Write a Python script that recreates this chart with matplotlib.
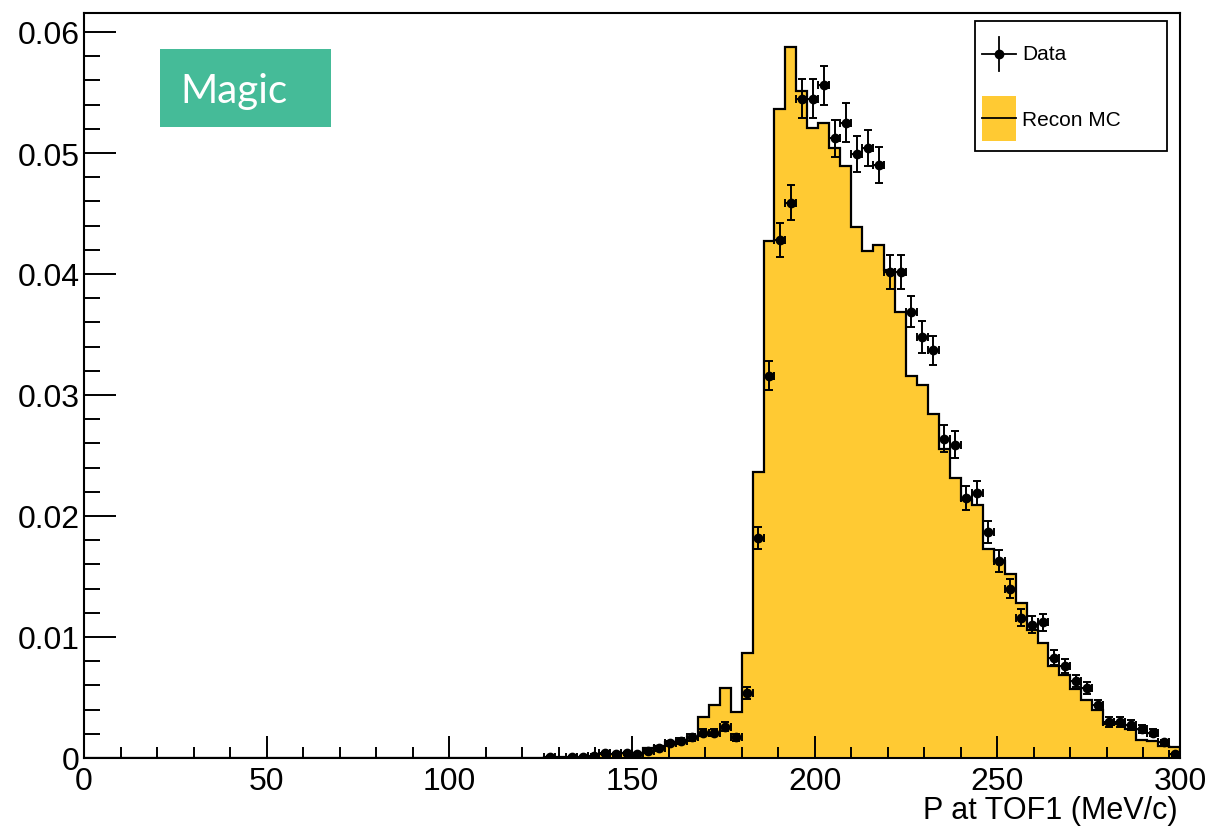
import numpy as np
import matplotlib
matplotlib.use("Agg")
import matplotlib.pyplot as plt
from matplotlib.patches import Rectangle
from matplotlib.lines import Line2D

plt.rcParams['font.family'] = ['Liberation Sans', 'DejaVu Sans']

# MC histogram, 3 MeV/c bins starting at 126 MeV/c (everything below is empty)
mc_start = 126
bin_width = 3
mc_values = [
    0.00005, 0.00005, 0.0001, 0.0001, 0.0002, 0.0003, 0.0003, 0.0004,   # 126-150
    0.0004, 0.0008, 0.0010, 0.0013, 0.0015, 0.0017,                     # 150-168
    0.0034, 0.0044, 0.0058, 0.0038,                                     # 168-180
    0.0087, 0.0236, 0.0427, 0.0536, 0.0588, 0.0551, 0.0521, 0.0525,     # 180-204
    0.0504, 0.0489, 0.0439, 0.0419, 0.0424, 0.0403, 0.0369, 0.0316,     # 204-228
    0.0308, 0.0284, 0.0255, 0.0231, 0.0213, 0.0209, 0.0173, 0.0163,     # 228-252
    0.0152, 0.0128, 0.0106, 0.0095, 0.0076, 0.0069, 0.0057, 0.0048,     # 252-276
    0.0040, 0.0028, 0.0028, 0.0024, 0.0015, 0.0014, 0.0010, 0.0009,     # 276-300
]

# Data points (bin centres), values and vertical errors
data_x = [127.5, 133.5, 136.5, 139.5, 142.5, 145.5, 148.5, 151.5, 154.5, 157.5,
          160.5, 163.5, 166.5, 169.5, 172.5, 175.5, 178.5, 181.5, 184.5, 187.5,
          190.5, 193.5, 196.5, 199.5, 202.5, 205.5, 208.5, 211.5, 214.5, 217.5,
          220.5, 223.5, 226.5, 229.5, 232.5, 235.5, 238.5, 241.5, 244.5, 247.5,
          250.5, 253.5, 256.5, 259.5, 262.5, 265.5, 268.5, 271.5, 274.5, 277.5,
          280.5, 283.5, 286.5, 289.5, 292.5, 295.5, 298.5]
data_y = [0.0001, 0.0001, 0.0001, 0.0002, 0.0004, 0.0003, 0.0004, 0.0003, 0.0006, 0.0008,
          0.0012, 0.0014, 0.0017, 0.0021, 0.0021, 0.0026, 0.0017, 0.0054, 0.0182, 0.0316,
          0.0428, 0.0459, 0.0545, 0.0545, 0.0556, 0.0512, 0.0525, 0.0499, 0.0504, 0.0490,
          0.0402, 0.0402, 0.0369, 0.0348, 0.0337, 0.0264, 0.0259, 0.0215, 0.0219, 0.0187,
          0.0163, 0.0140, 0.0116, 0.0110, 0.0112, 0.0083, 0.0076, 0.0064, 0.0058, 0.0044,
          0.0030, 0.0030, 0.0027, 0.0024, 0.0021, 0.0013, 0.0003]
data_err = [0.00007, 0.00007, 0.00007, 0.0001, 0.00013, 0.00012, 0.00013, 0.00012, 0.00017, 0.0002,
            0.00024, 0.00025, 0.00028, 0.0003, 0.0003, 0.00035, 0.00028, 0.0005, 0.0009, 0.0012,
            0.0014, 0.00145, 0.0016, 0.0016, 0.0016, 0.0015, 0.0016, 0.0015, 0.0015, 0.0015,
            0.0014, 0.0014, 0.0013, 0.0013, 0.0012, 0.0011, 0.0011, 0.0010, 0.0010, 0.0009,
            0.0009, 0.0008, 0.0007, 0.0007, 0.0007, 0.0006, 0.0006, 0.0005, 0.0005, 0.0004,
            0.0004, 0.0004, 0.0004, 0.0003, 0.0003, 0.0002, 0.0001]

xticks = [0, 50, 100, 150, 200, 250, 300]
yticks = [0, 0.01, 0.02, 0.03, 0.04, 0.05, 0.06]
ytick_labels = ['0', '0.01', '0.02', '0.03', '0.04', '0.05', '0.06']

mc_color = '#FFCA33'
W, H = 1212, 828

fig = plt.figure(figsize=(W / 100, H / 100), dpi=100)
ax = fig.add_axes([84 / W, 1 - 759 / H, (1180 - 84) / W, (759 - 14) / H])

# full histogram from 0 to 300 (empty bins below mc_start)
n_empty = mc_start // bin_width
values = np.concatenate([np.zeros(n_empty), mc_values])
edges = np.arange(0, bin_width * len(values) + 1, bin_width)

ax.stairs(values, edges, fill=True, color=mc_color, zorder=1)
ax.stairs(values, edges, color='black', linewidth=1.6, baseline=0, zorder=2)

ax.errorbar(data_x, data_y, xerr=bin_width / 2, yerr=data_err, fmt='o',
            color='black', markersize=6, elinewidth=1.4, capsize=3.2,
            capthick=1.4, zorder=3)

ax.set_xlim(0, 300)
ax.set_ylim(0, 0.06 + 19 / 12100)

ax.set_xticks(xticks)
ax.set_xticks(np.arange(0, 301, 10), minor=True)
ax.set_yticks(yticks)
ax.set_yticklabels(ytick_labels)
ax.set_yticks(np.arange(0, 0.0601, 0.002), minor=True)

ax.tick_params(axis='both', which='both', direction='in', width=1.4,
               labelsize=23, top=False, right=False)
ax.tick_params(axis='x', which='major', length=16, pad=6)
ax.tick_params(axis='x', which='minor', length=8)
ax.tick_params(axis='y', which='major', length=23, pad=3)
ax.tick_params(axis='y', which='minor', length=11.5)
for sp in ax.spines.values():
    sp.set_linewidth(1.5)

fig.text(1178 / W, 1 - 796 / H, 'P at TOF1 (MeV/c)', fontsize=22,
         ha='right', va='top')

# legend drawn by hand, ROOT style
def px(x, y):
    return x / W, 1 - y / H

fig.patches.append(Rectangle(px(975, 152), 192 / W, 130 / H, transform=fig.transFigure,
                             facecolor='white', edgecolor='black', linewidth=1.3, zorder=5))
cx, cy = px(999, 55)
fig.lines.append(Line2D([982 / W, 1016 / W], [cy, cy], transform=fig.transFigure,
                        color='black', linewidth=1.3, zorder=6))
fig.lines.append(Line2D([cx, cx], [1 - 38 / H, 1 - 72 / H], transform=fig.transFigure,
                        color='black', linewidth=1.3, zorder=6))
fig.lines.append(Line2D([cx], [cy], transform=fig.transFigure, marker='o',
                        markersize=6, color='black', zorder=7))
fig.text(1022 / W, cy, 'Data', fontsize=15, va='center', ha='left', zorder=7)
fig.patches.append(Rectangle(px(982, 142), 34 / W, 45 / H, transform=fig.transFigure,
                             facecolor=mc_color, edgecolor='none', zorder=6))
ly = 1 - 119 / H
fig.lines.append(Line2D([982 / W, 1016 / W], [ly, ly], transform=fig.transFigure,
                        color='black', linewidth=1.3, zorder=7))
fig.text(1022 / W, 1 - 121 / H, 'Recon MC', fontsize=15, va='center', ha='left', zorder=7)

# "Magic" badge
fig.patches.append(Rectangle(px(160, 128), 171 / W, 78 / H, transform=fig.transFigure,
                             facecolor='#45BB98', edgecolor='none', zorder=5))
fig.text(180 / W, 1 - 91 / H, 'Magic', fontsize=29, color='white', family='Lato',
         va='center', ha='left', zorder=6)

fig.savefig('out.png', dpi=100)
